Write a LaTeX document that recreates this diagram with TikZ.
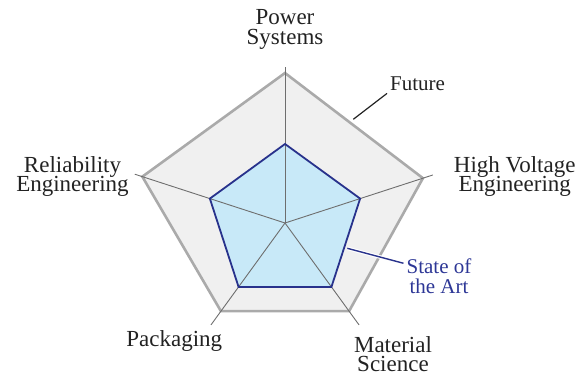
\documentclass[tikz,border=0pt]{standalone}
\usepackage{fontspec}
\setmainfont{Liberation Serif}
\usetikzlibrary{positioning}

\definecolor{futurefill}{RGB}{240,240,240}
\definecolor{futuredraw}{RGB}{170,170,170}
\definecolor{axisgray}{RGB}{110,110,110}
\definecolor{artfill}{RGB}{200,233,248}
\definecolor{artdraw}{RGB}{40,50,140}
\definecolor{arttext}{RGB}{45,55,150}
\definecolor{labeltext}{RGB}{34,34,34}
\lineskiplimit=-20pt

\begin{document}
\begin{tikzpicture}[
    x=1pt, y=1pt,
    axis label/.style={align=center,inner sep=0pt,text=labeltext,font=\fontsize{23}{19.5}\selectfont},
    key label/.style={align=center,inner sep=3pt,font=\fontsize{21}{20}\selectfont},
    axis line/.style={draw=axisgray,line width=0.9pt},
    future area/.style={fill=futurefill,draw=futuredraw,line width=2.6pt,line join=miter},
    art area/.style={draw=artdraw,line width=1.8pt,line join=miter}
]
\useasboundingbox (0,0) rectangle (585,376);

% Centre and axis ends
\coordinate (c) at (285,153);
\coordinate (a1) at ([shift={(c)}]90:156);
\coordinate (a2) at ([shift={(c)}]18:155.5);
\coordinate (a3) at ([shift={(c)}]-54:126);
\coordinate (a4) at ([shift={(c)}]-126:126);
\coordinate (a5) at ([shift={(c)}]162:158);

% Future
\coordinate (f1) at ([shift={(c)}]90:150);
\coordinate (f2) at ([shift={(c)}]18:145);
\coordinate (f3) at ([shift={(c)}]-54:109);
\coordinate (f4) at ([shift={(c)}]-126:109);
\coordinate (f5) at ([shift={(c)}]162:150);

% State of the Art
\coordinate (s1) at ([shift={(c)}]90:79);
\coordinate (s2) at ([shift={(c)}]18:79);
\coordinate (s3) at ([shift={(c)}]-54:79);
\coordinate (s4) at ([shift={(c)}]-126:79);
\coordinate (s5) at ([shift={(c)}]162:79);

\path[future area] (f1) -- (f2) -- (f3) -- (f4) -- (f5) -- cycle;
\fill[artfill] (s1) -- (s2) -- (s3) -- (s4) -- (s5) -- cycle;

% Axes
\draw[axis line] (c) -- (a1);
\draw[axis line] (c) -- (a2);
\draw[axis line] (c) -- (a3);
\draw[axis line] (c) -- (a4);
\draw[axis line] (c) -- (a5);

\draw[art area] (s1) -- (s2) -- (s3) -- (s4) -- (s5) -- cycle;

% Axis labels
\node[axis label] (power) at (285,346.6) {Power\\Systems};
\node[axis label] (voltage) at (514.7,199.3) {High Voltage\\Engineering};
\node[axis label] (reliability) at (72.5,199.3) {Reliability\\Engineering};
\node[axis label, anchor=base] (packaging) at (174.3,30) {Packaging};
\node[axis label] (material) at (393,21.7) {Material\\Science};

% Key labels
\node[key label, anchor=base west, text=labeltext] (future) at (387,286) {Future};
\node[key label, text=arttext] (art) at (439,99.8) {State of\\the Art};

\coordinate (futuretip) at (353.3,256.7);
\coordinate (arttip) at (347.3,127.7);
\draw[line width=1.2pt,labeltext] (futuretip) -- (future.south west);
\draw[line width=1.4pt,artdraw,preaction={draw=white,line width=3.6pt}] (arttip) -- (art.160);

\end{tikzpicture}
\end{document}
